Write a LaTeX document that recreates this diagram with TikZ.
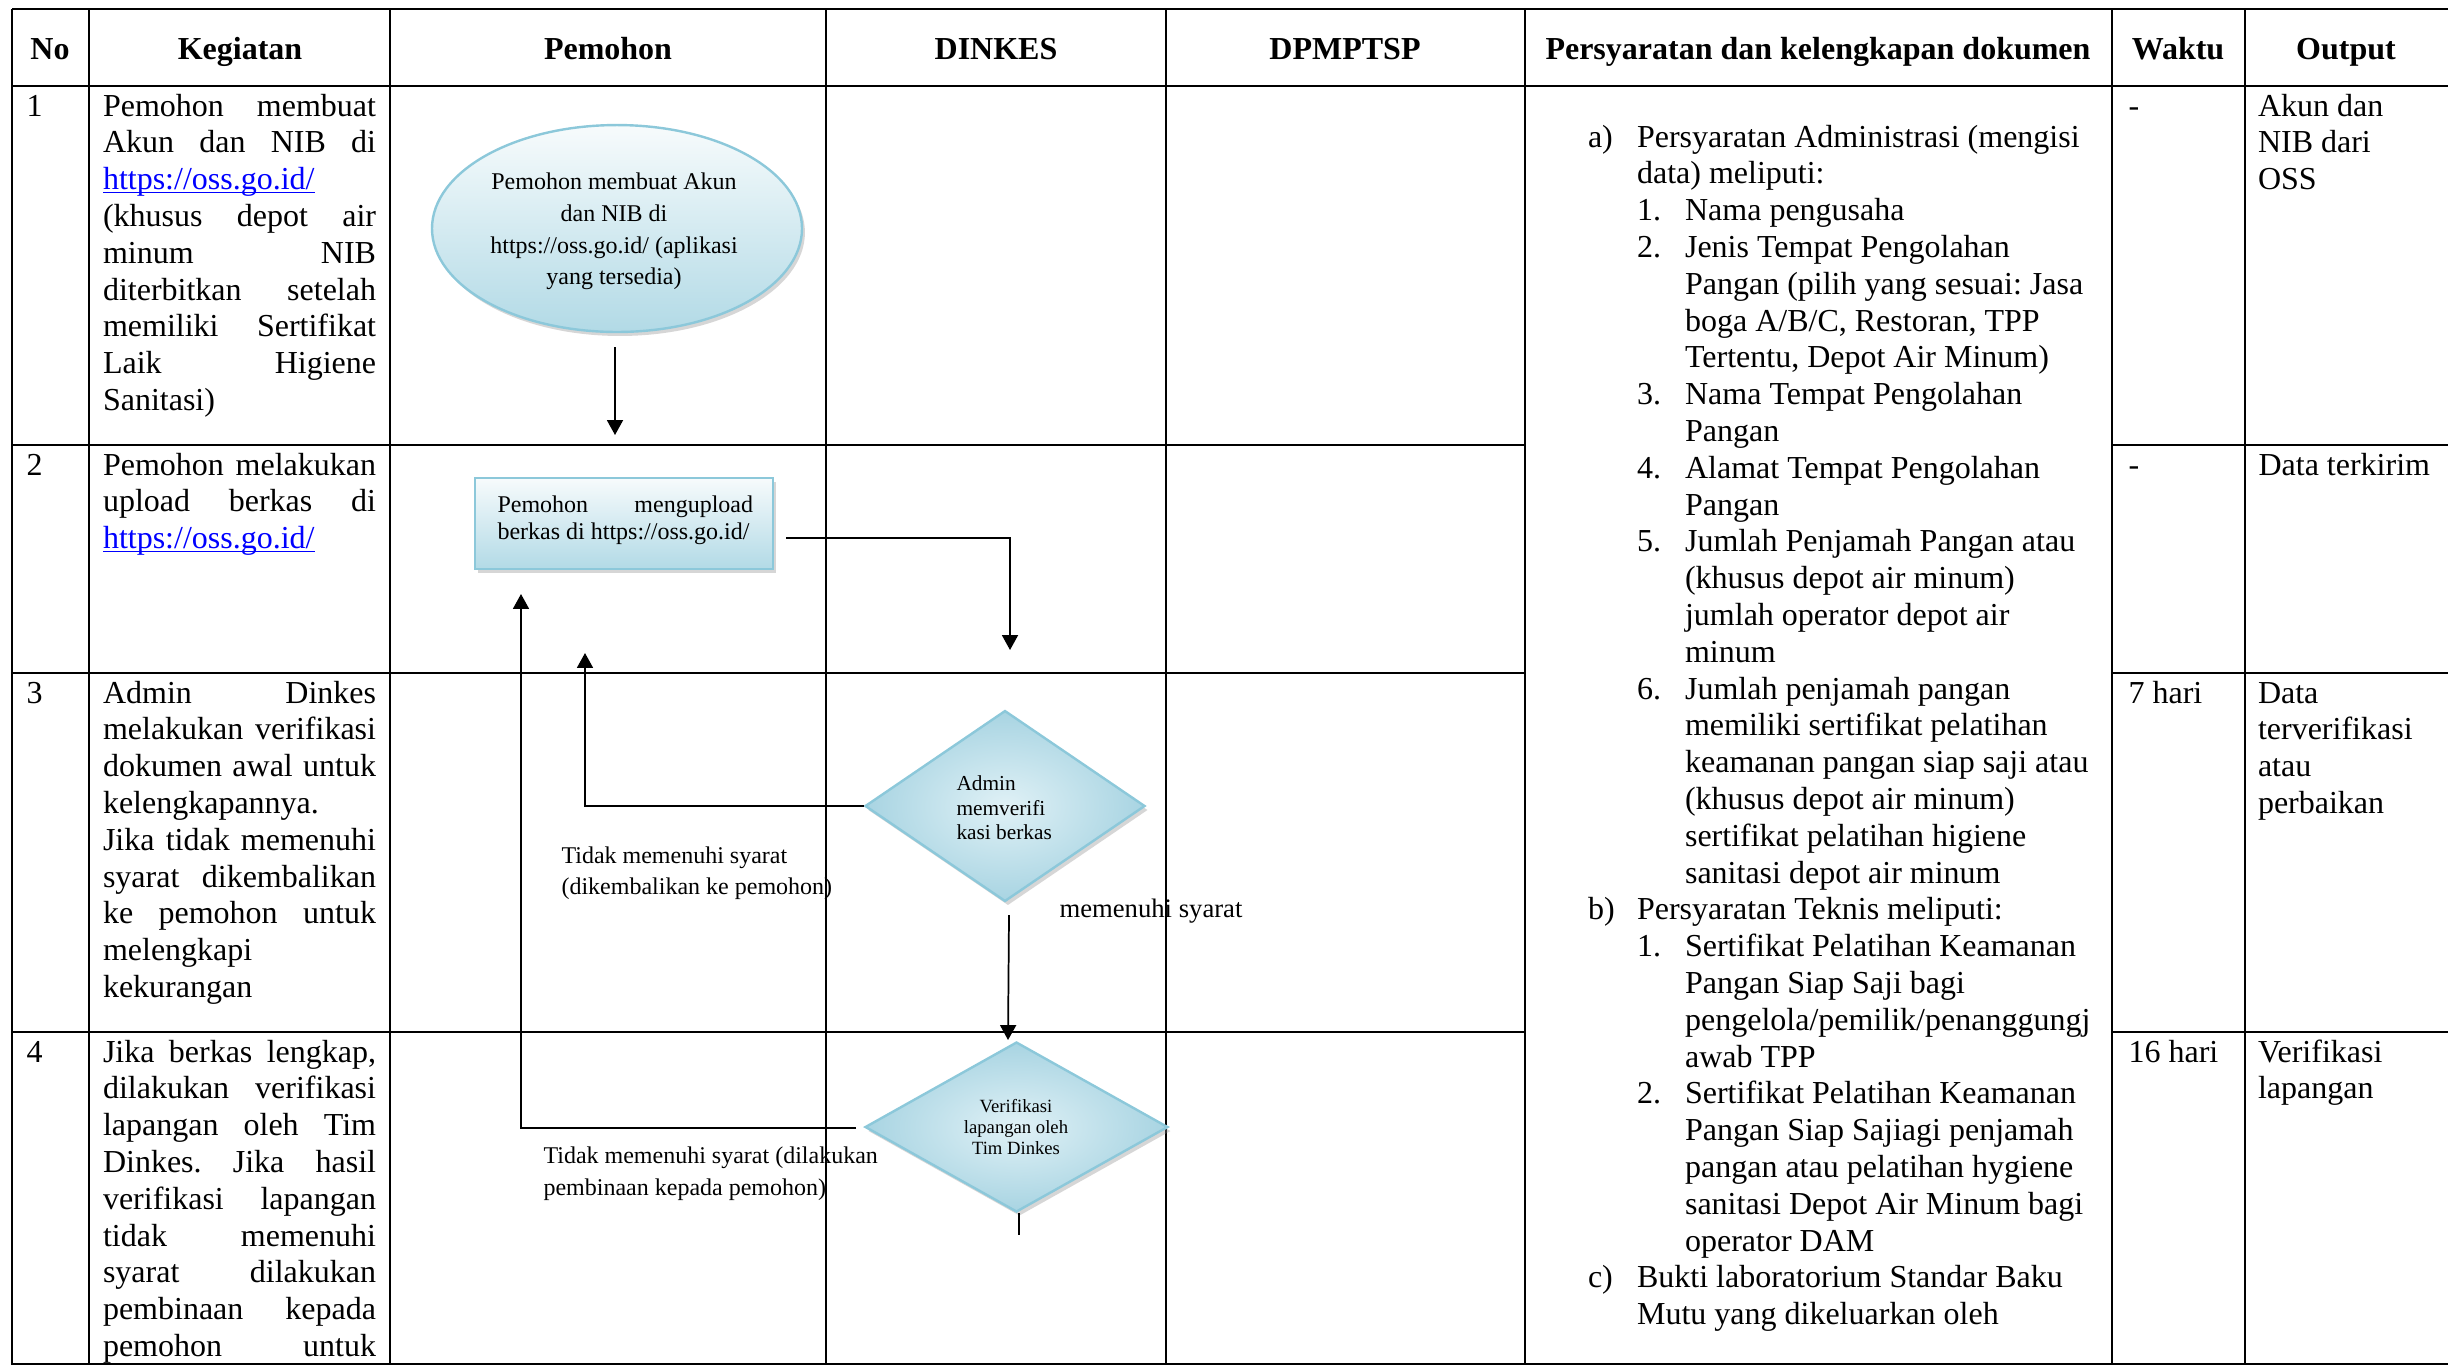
\documentclass[tikz,border=0pt]{standalone}
\usepackage{fontspec}
\setmainfont{Liberation Serif}
\usetikzlibrary{shapes.geometric,arrows.meta,shadows}
\definecolor{shapeline}{RGB}{140,200,218}
\definecolor{shapetop}{RGB}{247,251,252}
\definecolor{shapebot}{RGB}{178,218,230}
\definecolor{dinner}{RGB}{224,241,246}
\definecolor{douter}{RGB}{168,212,226}
\definecolor{linkblue}{RGB}{0,0,255}
\newlength\kw \setlength\kw{102.4pt}
\newcommand\natsp{\spaceskip=0pt\xspaceskip=0pt\relax}
\newcommand\jk[1]{\makebox[\kw][s]{\natsp#1}}
\newcommand\myul[1]{\setbox0\hbox{#1}\rlap{\rule[-1.4pt]{\wd0}{0.55pt}}\box0}
\newcommand\lnk{\textcolor{linkblue}{\myul{https://oss.go.id/}}}
\newcommand\fbody{\fontsize{12}{13.8}\selectfont\frenchspacing}
\newcommand\fell{\fontsize{9}{11.9}\selectfont}
\newcommand\frect{\fontsize{9}{10}\selectfont}
\newcommand\fdA{\fontsize{8}{9.2}\selectfont}
\newcommand\fdB{\fontsize{7}{7.9}\selectfont}
\newcommand\flabA{\fontsize{9}{11.6}\selectfont}
\newcommand\flabB{\fontsize{9}{11.9}\selectfont}
\newcommand\fmem{\fontsize{10}{12}\selectfont}
\newcommand\LA[2]{\makebox[18.4pt][l]{#1}#2}
\newcommand\CA[1]{\hspace*{18.4pt}#1}
\newcommand\LB[2]{\hspace*{18.4pt}\makebox[18pt][l]{#1}#2}
\newcommand\CB[1]{\hspace*{36.4pt}#1}
\begin{document}
\begin{tikzpicture}[x=0.375pt,y=-0.375pt,
  every node/.append style={execute at begin node={\natsp}},
  tbl/.style={line width=0.9pt},
  body/.style={anchor=north west, yshift=9.66pt, inner sep=0pt, outer sep=0pt, align=left, font=\fbody},
  basetxt/.style={anchor=base west, inner sep=0pt, font=\fbody},
  hdr/.style={anchor=base, inner sep=0pt, font=\fbody\bfseries},
  conn/.style={line width=0.65pt},
  arr/.style={conn, -{Triangle[width=6pt,length=5.6pt]}},
  shp/.style={draw=shapeline, line width=0.9pt, drop shadow={shadow xshift=1.1pt, shadow yshift=-1.5pt, fill=black!45, opacity=0.35}},
  ellbox/.style={shp, ellipse, inner sep=0pt, minimum width=138.75pt, minimum height=77.6pt, top color=shapetop, bottom color=shapebot},
  rectbox/.style={shp, rectangle, inner sep=0pt, minimum width=111.75pt, minimum height=34.1pt, top color=shapetop, bottom color=shapebot},
  diabox/.style={shp, diamond, inner sep=0pt, inner color=dinner, outer color=douter},
  etxt/.style={anchor=north, yshift=8.33pt, inner sep=0pt, align=center, font=\fell},
  rtxt/.style={anchor=north west, yshift=7pt, inner sep=0pt, align=left, text width=97pt, font=\frect},
  datxt/.style={anchor=north west, yshift=6.44pt, inner sep=0pt, align=left, font=\fdA},
  dbtxt/.style={anchor=north, yshift=5.53pt, inner sep=0pt, align=center, font=\fdB},
  labA/.style={anchor=north west, yshift=8.12pt, inner sep=0pt, align=left, font=\flabA},
  labB/.style={anchor=north west, yshift=8.33pt, inner sep=0pt, align=left, font=\flabB},
  labC/.style={anchor=base west, inner sep=0pt, font=\fmem},
]
\useasboundingbox (0,0) rectangle (2448,1366);
\fill[white] (0,0) rectangle (2448,1366);

% ---------- table grid ----------
\foreach \xx in {12,89,390,826,1166,1525,2112,2245}
  \draw[tbl] (\xx,9) -- (\xx,1365);
\foreach \yy in {9,86,1364}
  \draw[tbl] (12,\yy) -- (2448,\yy);
\foreach \yy in {445,673,1032}{
  \draw[tbl] (12,\yy) -- (1525,\yy);
  \draw[tbl] (2112,\yy) -- (2448,\yy);
}

% ---------- headers ----------
\node[hdr] (hNo) at (50,59) {No};
\node[hdr] (hKeg) at (240,59) {Kegiatan};
\node[hdr] (hPem) at (608,59) {Pemohon};
\node[hdr] (hDin) at (996,59) {DINKES};
\node[hdr] (hDpm) at (1345,59) {DPMPTSP};
\node[hdr] (hPer) at (1818,59) {Persyaratan dan kelengkapan dokumen};
\node[hdr] (hWak) at (2178,59) {Waktu};
\node[hdr] (hOut) at (2346,59) {Output};

% ---------- numbers ----------
\node[basetxt] (n1) at (26,116) {1};
\node[basetxt] (n2) at (26,475) {2};
\node[basetxt] (n3) at (26,703) {3};
\node[basetxt] (n4) at (26,1062) {4};

% ---------- kegiatan ----------
\node[body, text width=\kw] (k1) at (103,116) {\strut\jk{Pemohon membuat}\\\jk{Akun dan NIB di}\\\lnk\\\jk{(khusus depot air}\\\jk{minum NIB}\\\jk{diterbitkan setelah}\\\jk{memiliki Sertifikat}\\\jk{Laik Higiene}\\Sanitasi)};
\node[body, text width=\kw] (k2) at (103,475) {\strut\jk{Pemohon melakukan}\\\jk{upload berkas di}\\\lnk};
\node[body, text width=\kw] (k3) at (103,703) {\strut\jk{Admin Dinkes}\\\jk{melakukan verifikasi}\\\jk{dokumen awal untuk}\\kelengkapannya.\\\jk{Jika tidak memenuhi}\\\jk{syarat dikembalikan}\\\jk{ke pemohon untuk}\\melengkapi\\kekurangan};
\node[body, text width=\kw] (k4) at (103,1062) {\strut\jk{Jika berkas lengkap,}\\\jk{dilakukan verifikasi}\\\jk{lapangan oleh Tim}\\\jk{Dinkes. Jika hasil}\\\jk{verifikasi lapangan}\\\jk{tidak memenuhi}\\\jk{syarat dilakukan}\\\jk{pembinaan kepada}\\\jk{pemohon untuk}};

% ---------- persyaratan ----------
\node[body, text width=230pt] (syarat) at (1588,147) {\strut\LA{a)}{Persyaratan Administrasi (mengisi}\\
\CA{data) meliputi:}\\
\LB{1.}{Nama pengusaha}\\
\LB{2.}{Jenis Tempat Pengolahan}\\
\CB{Pangan (pilih yang sesuai: Jasa}\\
\CB{boga A/B/C, Restoran, TPP}\\
\CB{Tertentu, Depot Air Minum)}\\
\LB{3.}{Nama Tempat Pengolahan}\\
\CB{Pangan}\\
\LB{4.}{Alamat Tempat Pengolahan}\\
\CB{Pangan}\\
\LB{5.}{Jumlah Penjamah Pangan atau}\\
\CB{(khusus depot air minum)}\\
\CB{jumlah operator depot air}\\
\CB{minum}\\
\LB{6.}{Jumlah penjamah pangan}\\
\CB{memiliki sertifikat pelatihan}\\
\CB{keamanan pangan siap saji atau}\\
\CB{(khusus depot air minum)}\\
\CB{sertifikat pelatihan higiene}\\
\CB{sanitasi depot air minum}\\
\LA{b)}{Persyaratan Teknis meliputi:}\\
\LB{1.}{Sertifikat Pelatihan Keamanan}\\
\CB{Pangan Siap Saji bagi}\\
\CB{pengelola/pemilik/penanggungj}\\
\CB{awab TPP}\\
\LB{2.}{Sertifikat Pelatihan Keamanan}\\
\CB{Pangan Siap Sajiagi penjamah}\\
\CB{pangan atau pelatihan hygiene}\\
\CB{sanitasi Depot Air Minum bagi}\\
\CB{operator DAM}\\
\LA{c)}{Bukti laboratorium Standar Baku}\\
\CA{Mutu yang dikeluarkan oleh}};

% ---------- waktu ----------
\node[basetxt] (w1) at (2128,116) {-};
\node[basetxt] (w2) at (2128,475) {-};
\node[basetxt] (w3) at (2128,703) {7 hari};
\node[basetxt] (w4) at (2128,1062) {16 hari};

% ---------- output ----------
\node[body] (o1) at (2258,116) {\strut Akun dan\\NIB dari\\OSS};
\node[basetxt] (o2) at (2258,475) {Data terkirim};
\node[body] (o3) at (2258,703) {\strut Data\\terverifikasi\\atau\\perbaikan};
\node[body] (o4) at (2258,1062) {\strut Verifikasi\\lapangan};

% ---------- flow shapes ----------
\node[ellbox] (e1) at (617,228.5) {};
\node[etxt] (e1t) at (614,189) {\strut Pemohon membuat Akun\\dan NIB di\\https://oss.go.id/ (aplikasi\\yang tersedia)};

\node[rectbox] (r1) at (624,523.5) {};
\node[rtxt] (r1t) at (497,512) {\strut\makebox[95.85pt][s]{\natsp Pemohon mengupload}\\berkas di https://oss.go.id/};

\node[diabox, minimum width=105pt, minimum height=71.6pt] (d1) at (1005,806) {};
\node[datxt] (d1t) at (956,790) {\strut Admin\\memverifi\\kasi berkas};

\node[diabox, minimum width=113.6pt, minimum height=63.75pt] (d2) at (1016.5,1127) {};
\node[dbtxt] (d2t) at (1016,1112) {\strut Verifikasi\\lapangan oleh\\Tim Dinkes};

% ---------- labels ----------
\node[labA] (lab1) at (561,863) {\strut Tidak memenuhi syarat\\(dikembalikan ke pemohon)};
\node[labC] (lab2) at (1059,917) {memenuhi syarat};
\node[labB] (lab3) at (543,1163) {\strut Tidak memenuhi syarat (dilakukan\\pembinaan kepada pemohon)};

% ---------- connectors ----------
\coordinate (p1a) at (615,347);
\coordinate (p1b) at (615,435);
\coordinate (p2a) at (786,538);
\coordinate (p2b) at (1010,650);
\coordinate (p3b) at (585,653);
\coordinate (p4a) at (1009,915);
\coordinate (p4b) at (1008,1040);
\coordinate (p5a) at (856,1128);
\coordinate (p5b) at (521,594);
\coordinate (p6a) at (1019,1213);
\coordinate (p6b) at (1019,1235);

\draw[arr] (p1a) -- (p1b);
\draw[arr] (p2a) -| (p2b);
\draw[arr] (d1.west) -| (p3b);
\draw[arr] (p4a) -- (p4b);
\draw[arr] (p5a) -| (p5b);
\draw[conn] (p6a) -- (p6b);
\end{tikzpicture}
\end{document}
